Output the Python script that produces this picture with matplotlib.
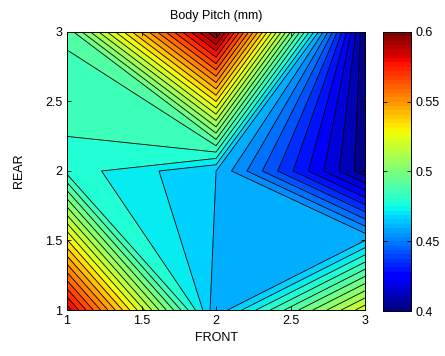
import numpy as np
import matplotlib
matplotlib.use("Agg")
import matplotlib.pyplot as plt
from matplotlib.colors import Normalize
from matplotlib.cm import ScalarMappable

# grid of the measurement (front / rear settings)
front = [1, 2, 3]
rear = [1, 2, 3]

# body pitch (mm), one row per rear setting
pitch_rear1 = [0.585, 0.4574, 0.523]
pitch_rear2 = [0.47875, 0.46255, 0.402]
pitch_rear3 = [0.4888, 0.600, 0.400]

cbar_ticks = [0.4, 0.45, 0.5, 0.55, 0.6]
axis_ticks = [1, 1.5, 2, 2.5, 3]

plt.rcParams["font.family"] = ["Liberation Sans", "DejaVu Sans"]
plt.rcParams["font.size"] = 9

Z = np.array([pitch_rear1, pitch_rear2, pitch_rear3])
X, Y = np.meshgrid(front, rear)

zmin, zmax = 0.4, 0.6
levels = np.linspace(zmin, zmax, 33)
norm = Normalize(zmin, zmax)

fig = plt.figure(figsize=(4.45, 3.56), dpi=100)
ax = fig.add_axes([0.1506, 0.1292, 0.6697, 0.781])

ax.contourf(X, Y, Z, levels=levels, cmap="jet", norm=norm)
ax.contour(X, Y, Z, levels=levels[1:-1], colors="k", linewidths=0.6)

ax.set_xlim(1, 3)
ax.set_ylim(1, 3)
ax.set_xticks(axis_ticks)
ax.set_yticks(axis_ticks)
ax.set_xticklabels(["1", "1.5", "2", "2.5", "3"])
ax.set_yticklabels(["1", "1.5", "2", "2.5", "3"])
ax.tick_params(direction="in", top=True, right=True, length=3, width=0.6)
for sp in ax.spines.values():
    sp.set_linewidth(0.7)

ax.set_xlabel("FRONT", labelpad=4)
ax.set_ylabel("REAR", labelpad=14)
ax.set_title("Body Pitch (mm)", fontsize=9, pad=9)

# colour bar on the right
cax = fig.add_axes([0.8607, 0.1264, 0.0629, 0.784])
sm = ScalarMappable(norm=norm, cmap=plt.get_cmap("jet", 64))
cb = fig.colorbar(sm, cax=cax, ticks=cbar_ticks)
cb.ax.set_yticklabels(["0.4", "0.45", "0.5", "0.55", "0.6"])
cb.ax.tick_params(direction="in", left=True, right=True, length=3, width=0.6)
cb.outline.set_linewidth(0.7)

fig.savefig("out.png", dpi=100)
